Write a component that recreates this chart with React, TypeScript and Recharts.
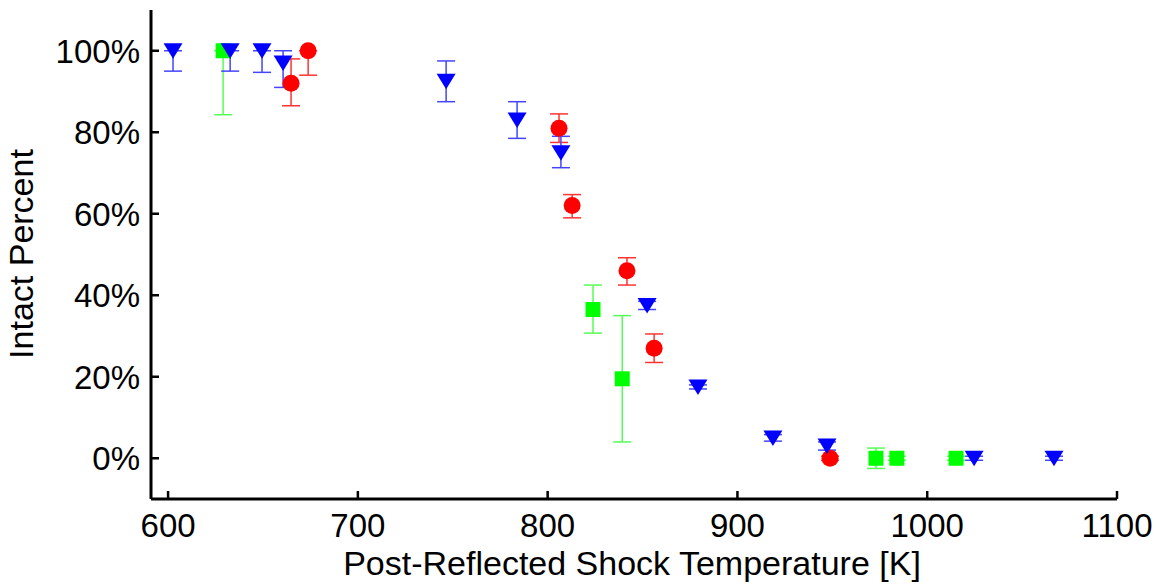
import { ScatterChart, Scatter, XAxis, YAxis, ErrorBar, Label } from 'recharts'

// temperatures [K], intact fraction, and [lower, upper] error
const blueT = [602.6, 632.7, 649.5, 660.6, 746.5, 783.9, 807, 852.4, 879.2, 918.7, 947.2, 1024.7, 1066.8]
const blueY = [1.0, 1.0, 1.0, 0.97, 0.925, 0.83, 0.75, 0.375, 0.175, 0.05, 0.03, 0.0, 0.0]
const blueErr = [
  [0.05, 0], [0.05, 0], [0.053, 0], [0.06, 0.03], [0.05, 0.05], [0.045, 0.045], [0.037, 0.04],
  [0.01, 0.01], [0.005, 0.005], [0.008, 0.008], [0.01, 0.01], [0.005, 0.005], [0.005, 0.005],
]

const redT = [664.8, 673.8, 806, 812.9, 841.8, 856.1, 948.8]
const redY = [0.92, 1.0, 0.81, 0.62, 0.46, 0.27, 0.0]
const redErr = [[0.055, 0.06], [0.06, 0], [0.035, 0.035], [0.03, 0.027], [0.035, 0.032], [0.035, 0.035], [0.005, 0.005]]

const greenT = [629, 823.9, 839.3, 973, 984, 1015.2]
const greenY = [1.0, 0.365, 0.195, 0.0, 0.0, 0.0]
const greenErr = [[0.157, 0], [0.058, 0.06], [0.155, 0.155], [0.025, 0.025], [0.005, 0.005], [0.005, 0.005]]

const xTicks = [600, 700, 800, 900, 1000, 1100]
const yTicks = [0, 0.2, 0.4, 0.6, 0.8, 1.0]

const toRows = (t: number[], y: number[], e: number[][]) =>
  t.map((x, i) => ({ x, y: y[i], err: e[i] }))

const blue = toRows(blueT, blueY, blueErr)
const red = toRows(redT, redY, redErr)
const green = toRows(greenT, greenY, greenErr)

const FONT = '"Liberation Sans", Arial, sans-serif'

function Triangle(props: any) {
  const { cx, cy } = props
  return <path d={`M${cx - 9.5},${cy - 7.5} L${cx + 9.5},${cy - 7.5} L${cx},${cy + 8} Z`} fill="#0000ff" />
}

function Circle(props: any) {
  const { cx, cy } = props
  return <circle cx={cx} cy={cy} r={8.5} fill="#ff0000" />
}

function Square(props: any) {
  const { cx, cy } = props
  return <rect x={cx - 7.5} y={cy - 7.5} width={15} height={15} fill="#00ff00" />
}

function XTick(props: any) {
  const { x, y, payload } = props
  return (
    <g>
      <line x1={x} x2={x} y1={y} y2={y - 8} stroke="#000" strokeWidth={2.5} />
      <text x={x} y={y + 38} textAnchor="middle" fontSize={33} fontFamily={FONT} fill="#000">
        {payload.value}
      </text>
    </g>
  )
}

function YTick(props: any) {
  const { x, y, payload } = props
  return (
    <g>
      <line x1={x} x2={x + 8} y1={y} y2={y} stroke="#000" strokeWidth={2.5} />
      <text x={x - 11} y={y + 12} textAnchor="end" fontSize={33} fontFamily={FONT} fill="#000">
        {`${Math.round(payload.value * 100)}%`}
      </text>
    </g>
  )
}

export default function App() {
  return (
    <div style={{ position: 'absolute', left: 0, top: 0, width: 1160, height: 584, background: '#fff' }}>
      <ScatterChart width={1160} height={584} margin={{ top: 10, right: 43, bottom: 0, left: 0 }}>
        <XAxis
          type="number"
          dataKey="x"
          domain={[591, 1100]}
          ticks={xTicks}
          allowDataOverflow
          height={85}
          tickSize={0}
          tickMargin={0}
          tick={<XTick />}
          axisLine={{ stroke: '#000', strokeWidth: 3 }}
        >
          <Label
            content={() => (
              <text x={632} y={575} textAnchor="middle" fontSize={34} fontFamily={FONT} fill="#000">
                Post-Reflected Shock Temperature [K]
              </text>
            )}
          />
        </XAxis>
        <YAxis
          type="number"
          dataKey="y"
          domain={[-0.1, 1.1]}
          ticks={yTicks}
          allowDataOverflow
          width={151}
          tickSize={0}
          tickMargin={0}
          tick={<YTick />}
          axisLine={{ stroke: '#000', strokeWidth: 3 }}
        >
          <Label
            content={() => (
              <text
                x={33}
                y={254}
                transform="rotate(-90 33 254)"
                textAnchor="middle"
                fontSize={34}
                fontFamily={FONT}
                fill="#000"
              >
                Intact Percent
              </text>
            )}
          />
        </YAxis>
        <Scatter data={red} shape={<Circle />} isAnimationActive={false}>
          <ErrorBar dataKey="err" direction="y" width={9} stroke="#ff3333" strokeWidth={1.5} />
        </Scatter>
        <Scatter data={green} shape={<Square />} isAnimationActive={false}>
          <ErrorBar dataKey="err" direction="y" width={9} stroke="#55ff55" strokeWidth={1.5} />
        </Scatter>
        <Scatter data={blue} shape={<Triangle />} isAnimationActive={false}>
          <ErrorBar dataKey="err" direction="y" width={9} stroke="#4444ff" strokeWidth={1.5} />
        </Scatter>
      </ScatterChart>
    </div>
  )
}
